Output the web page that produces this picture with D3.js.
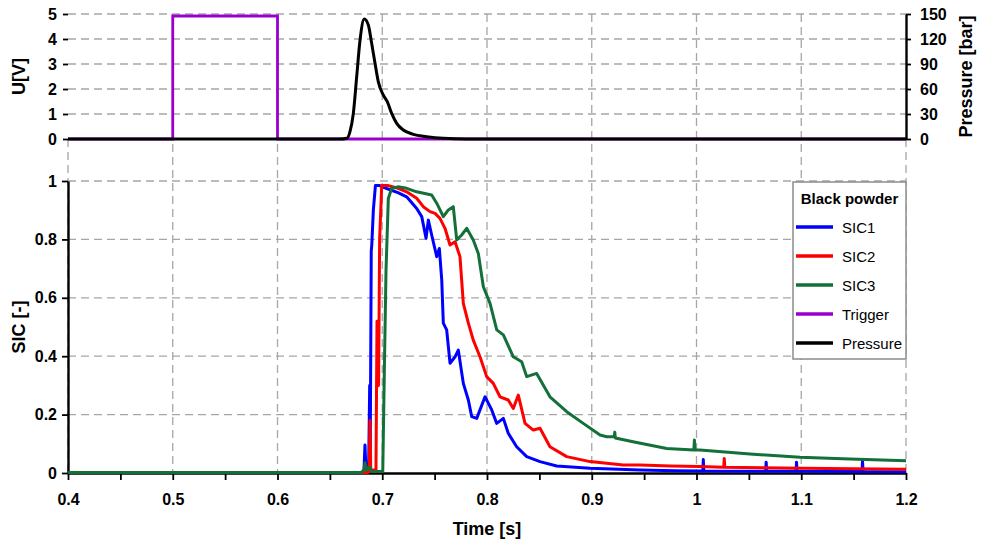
<!DOCTYPE html>
<html>
<head>
<meta charset="utf-8">
<script src="https://cdn.jsdelivr.net/npm/d3@7"></script>
<style>
  body { margin: 0; background: #fff; }
  text { font-family: "Liberation Sans", Arial, sans-serif; font-weight: bold; fill: #000; }
</style>
</head>
<body>
<svg id="chart" width="981" height="543"></svg>
<script>
// ---- data ----
// time [s], value
const trigger = [[0.4, 0], [0.5, 0], [0.5, 4.92], [0.6, 4.92], [0.6, 0], [1.2, 0]];

// time [s], pressure [bar]
const pressure = [[0.4, 0], [0.6597, 0], [0.6664, 1], [0.6692, 8.8], [0.6724, 30.8], [0.6756, 74.8],
  [0.6788, 118.8], [0.6829, 144], [0.6867, 136.8], [0.6899, 114.8], [0.6931, 90.8], [0.6962, 68.8],
  [0.7010, 52.8], [0.7048, 44.8], [0.7090, 30.8], [0.7138, 18.8], [0.7201, 10.8], [0.7296, 5.6],
  [0.7424, 2.8], [0.7583, 0.8], [0.78, 0], [1.2, 0]];

const sic1 = [[0.4, 0.002], [0.68, 0.002], [0.6825, 0.005], [0.6835, 0.096], [0.6845, 0.01], [0.687, 0.01],
  [0.688, 0.3], [0.6885, 0.05], [0.6895, 0.76], [0.690, 0.78], [0.6915, 0.9], [0.6935, 0.985], [0.697, 0.985],
  [0.700, 0.98], [0.7074, 0.97], [0.715, 0.96], [0.7233, 0.946], [0.7329, 0.906], [0.7377, 0.878],
  [0.7418, 0.804], [0.7440, 0.866], [0.7472, 0.815], [0.7520, 0.741], [0.7545, 0.769], [0.7568, 0.661],
  [0.7583, 0.513], [0.7615, 0.49], [0.7647, 0.376], [0.7695, 0.398], [0.7726, 0.421], [0.7774, 0.307],
  [0.7822, 0.25], [0.7854, 0.193], [0.7902, 0.187], [0.7981, 0.261], [0.8045, 0.216], [0.8093, 0.17],
  [0.8156, 0.187], [0.8203, 0.136], [0.8283, 0.09], [0.8379, 0.056], [0.8506, 0.039], [0.8665, 0.024],
  [0.8983, 0.016], [0.9461, 0.01], [0.98, 0.008], [1.006, 0.007], [1.0065, 0.046], [1.007, 0.007],
  [1.066, 0.006], [1.0665, 0.037], [1.067, 0.006], [1.095, 0.006], [1.0955, 0.037], [1.096, 0.006],
  [1.158, 0.005], [1.1585, 0.042], [1.159, 0.005], [1.2, 0.004]];

const sic2 = [[0.4, 0.002], [0.686, 0.002], [0.6875, 0.005], [0.6883, 0.18], [0.689, 0.01], [0.694, 0.01],
  [0.695, 0.52], [0.6965, 0.3], [0.6975, 0.8], [0.6995, 0.985], [0.705, 0.985], [0.715, 0.975],
  [0.7233, 0.963], [0.7329, 0.941], [0.7392, 0.912], [0.7456, 0.895], [0.7504, 0.889], [0.7551, 0.872],
  [0.7599, 0.838], [0.7647, 0.781], [0.7695, 0.792], [0.7742, 0.741], [0.7774, 0.581], [0.7822, 0.513],
  [0.7869, 0.455], [0.7933, 0.398], [0.7997, 0.33], [0.8060, 0.307], [0.8124, 0.261], [0.8203, 0.25],
  [0.8251, 0.221], [0.8299, 0.267], [0.8363, 0.17], [0.8442, 0.147], [0.8506, 0.153], [0.8601, 0.09],
  [0.8761, 0.056], [0.8983, 0.039], [0.9301, 0.027], [0.9461, 0.027], [0.975, 0.024], [1.003, 0.022],
  [1.026, 0.02], [1.0265, 0.05], [1.027, 0.02], [1.1, 0.016], [1.2, 0.013]];

const sic3 = [[0.4, 0.002], [0.68, 0.002], [0.6825, 0.01], [0.6835, 0.035], [0.685, 0.01], [0.688, 0.02],
  [0.69, 0.005], [0.7005, 0.005], [0.7020, 0.35], [0.7036, 0.695], [0.7058, 0.94], [0.709, 0.975],
  [0.715, 0.98], [0.7233, 0.975], [0.7329, 0.963], [0.7472, 0.952], [0.7520, 0.924], [0.7583, 0.878],
  [0.7631, 0.901], [0.7678, 0.912], [0.7711, 0.798], [0.7758, 0.815], [0.7806, 0.838], [0.7869, 0.798],
  [0.7917, 0.752], [0.7965, 0.638], [0.8029, 0.581], [0.8093, 0.49], [0.8156, 0.473], [0.8251, 0.398],
  [0.8331, 0.381], [0.8379, 0.33], [0.8474, 0.341], [0.8601, 0.261], [0.8761, 0.21], [0.8919, 0.17],
  [0.9079, 0.13], [0.9143, 0.124], [0.9215, 0.125], [0.922, 0.14], [0.9225, 0.12], [0.9394, 0.107],
  [0.9716, 0.084], [0.9975, 0.079], [0.998, 0.113], [0.9985, 0.079], [1.0033, 0.079], [1.0511, 0.065],
  [1.0988, 0.054], [1.1465, 0.048], [1.2, 0.042]];

const timeTicks = [0.4, 0.5, 0.6, 0.7, 0.8, 0.9, 1, 1.1, 1.2];
const timeMinorTicks = [0.4, 0.45, 0.5, 0.55, 0.6, 0.65, 0.7, 0.75, 0.8, 0.85, 0.9, 0.95, 1, 1.05, 1.1, 1.15, 1.2];
const voltTicks = [0, 1, 2, 3, 4, 5];
const pressureTicks = [0, 30, 60, 90, 120, 150];
const sicTicks = [0, 0.2, 0.4, 0.6, 0.8, 1];

const legendNames = ["SIC1", "SIC2", "SIC3", "Trigger", "Pressure"];
const legendColors = ["#0000ff", "#ff0000", "#127038", "#9900cc", "#000000"];

// ---- layout ----
const svg = d3.select("#chart");
const x = d3.scaleLinear().domain([0.4, 1.2]).range([68, 906]);
const yU = d3.scaleLinear().domain([0, 5]).range([139, 14]);
const yP = d3.scaleLinear().domain([0, 150]).range([139, 14]);
const yS = d3.scaleLinear().domain([0, 1]).range([473, 181]);

const grid = svg.append("g")
  .attr("stroke", "#a6a6a6").attr("stroke-width", 1.3).attr("stroke-dasharray", "8,5");

// vertical grid lines run through both panels
grid.selectAll("line.v")
  .data(timeTicks)
  .join("line")
  .attr("x1", d => x(d)).attr("x2", d => x(d))
  .attr("y1", d => (d === 0.4 || d === 1.2) ? yU(0) : yU(5))
  .attr("y2", yS(0));

grid.selectAll("line.hu")
  .data(voltTicks.slice(1))
  .join("line")
  .attr("class", "hu")
  .attr("x1", x(0.4)).attr("x2", x(1.2))
  .attr("y1", d => yU(d)).attr("y2", d => yU(d));

grid.selectAll("line.hs")
  .data(sicTicks.slice(1))
  .join("line")
  .attr("class", "hs")
  .attr("x1", x(0.4)).attr("x2", x(1.2))
  .attr("y1", d => yS(d)).attr("y2", d => yS(d));

// ---- axes ----
function styleAxis(g, size) {
  g.selectAll("text").style("font-size", size + "px");
  g.selectAll("line").attr("stroke", "#000").attr("stroke-width", 1.8);
  g.select(".domain").attr("stroke", "#000").attr("stroke-width", 2.4);
}

// top left axis (no axis line)
svg.append("g")
  .attr("transform", `translate(${x(0.4)},0)`)
  .call(d3.axisLeft(yU).tickValues(voltTicks).tickSize(5).tickPadding(6).tickFormat(d3.format("d")))
  .call(g => styleAxis(g, 16))
  .call(g => g.select(".domain").remove());

// top right axis
svg.append("g")
  .attr("transform", `translate(${x(1.2)},0)`)
  .call(d3.axisRight(yP).tickValues(pressureTicks).tickSize(5).tickPadding(9).tickSizeOuter(0))
  .call(g => styleAxis(g, 16));

// bottom left axis
svg.append("g")
  .attr("transform", `translate(${x(0.4)},0)`)
  .call(d3.axisLeft(yS).tickValues(sicTicks).tickSize(6).tickPadding(5).tickSizeOuter(0)
    .tickFormat(d => String(d)))
  .call(g => styleAxis(g, 16));

// bottom time axis: minor ticks every 0.05, labels every 0.1
svg.append("g")
  .attr("transform", `translate(0,${yS(0)})`)
  .call(d3.axisBottom(x).tickValues(timeMinorTicks).tickSize(7).tickSizeOuter(0).tickFormat(""))
  .call(g => styleAxis(g, 16));

svg.append("g")
  .attr("transform", `translate(0,${yS(0)})`)
  .call(d3.axisBottom(x).tickValues(timeTicks).tickSize(0).tickPadding(21).tickFormat(d => String(d)))
  .call(g => styleAxis(g, 16))
  .call(g => g.select(".domain").remove());

// ---- top panel lines ----
const lineU = d3.line().x(d => x(d[0])).y(d => yU(d[1]));
const lineP = d3.line().x(d => x(d[0])).y(d => yP(d[1])).curve(d3.curveMonotoneX);

svg.append("path").datum(trigger)
  .attr("d", lineU).attr("fill", "none")
  .attr("stroke", legendColors[3]).attr("stroke-width", 2.8);

svg.append("path").datum(pressure)
  .attr("d", lineP).attr("fill", "none")
  .attr("stroke", legendColors[4]).attr("stroke-width", 3)
  .attr("stroke-linejoin", "round");

// ---- bottom panel lines ----
const lineS = d3.line().x(d => x(d[0])).y(d => yS(d[1]));
[sic1, sic2, sic3].forEach((s, i) => {
  svg.append("path").datum(s)
    .attr("d", lineS).attr("fill", "none")
    .attr("stroke", legendColors[i]).attr("stroke-width", 3)
    .attr("stroke-linejoin", "round");
});

// ---- axis titles ----
svg.append("text")
  .attr("transform", `translate(25,${yU(2.5)}) rotate(-90)`)
  .attr("text-anchor", "middle").style("font-size", "18px").text("U[V]");

svg.append("text")
  .attr("transform", `translate(25,${yS(0.5)}) rotate(-90)`)
  .attr("text-anchor", "middle").style("font-size", "18px").text("SIC [-]");

svg.append("text")
  .attr("transform", `translate(972,${yP(75)}) rotate(-90)`)
  .attr("text-anchor", "middle").style("font-size", "18px").text("Pressure [bar]");

svg.append("text")
  .attr("x", (x(0.4) + x(1.2)) / 2).attr("y", 535)
  .attr("text-anchor", "middle").style("font-size", "18px").text("Time [s]");

// ---- legend ----
const legend = svg.append("g").attr("transform", "translate(793,182)");
legend.append("rect")
  .attr("width", 113).attr("height", 177)
  .attr("fill", "#fff").attr("stroke", "#8c8c8c").attr("stroke-width", 1.5);
legend.append("text")
  .attr("x", 56.5).attr("y", 22).attr("text-anchor", "middle")
  .style("font-size", "15px").text("Black powder");

const item = legend.selectAll("g.item")
  .data(legendNames)
  .join("g")
  .attr("class", "item")
  .attr("transform", (d, i) => `translate(0,${45 + i * 29})`);
item.append("line")
  .attr("x1", 3).attr("x2", 40)
  .attr("stroke", (d, i) => legendColors[i]).attr("stroke-width", 3.5);
item.append("text")
  .attr("x", 49).attr("y", 5.5)
  .style("font-size", "15px").style("font-weight", "normal")
  .text(d => d);
</script>
</body>
</html>
